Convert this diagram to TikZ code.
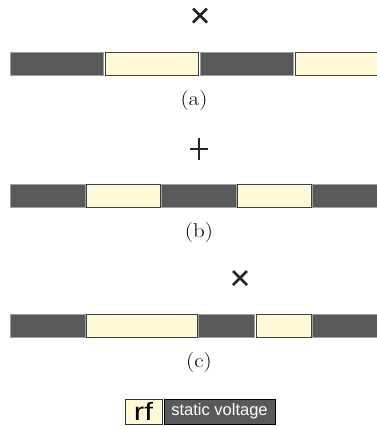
\documentclass[tikz,border=0pt]{standalone}
\usepackage{fontspec}
\newfontfamily\legendfont{Liberation Sans}
\usepackage{graphicx}
\usetikzlibrary{calc}
\definecolor{darkseg}{HTML}{58595B}
\definecolor{creamseg}{HTML}{FFF9D8}
\begin{document}
\begin{tikzpicture}[x=1pt,y=-1pt,
  dseg/.style={fill=darkseg,draw=gray!75,line width=0.7pt},
  cseg/.style={fill=creamseg,draw=black!75,line width=0.7pt},
  sublabel/.style={font=\fontsize{20}{22}\selectfont,inner sep=0pt},
  xmarkline/.style={line width=2.6pt,black!85},
  pmarkline/.style={line width=2.2pt,black!85}]
\useasboundingbox[fill=white] (0,0) rectangle (377,426);
% (a)
\draw[dseg] (10,52) rectangle (103,75);
\draw[cseg] (105,52) rectangle (198,75);
\draw[dseg] (200,52) rectangle (293,75);
\draw[cseg] (295,52) rectangle (379,75);
\coordinate (xa) at (200,15.5);
\draw[xmarkline] ($(xa)+(-7,-7)$) -- ($(xa)+(7,7)$) ($(xa)+(-7,7)$) -- ($(xa)+(7,-7)$);
\node[sublabel] (la) at (194,101) {\scalebox{1.15}[1]{(a)}};
% (b)
\draw[dseg] (10,184) rectangle (85,207);
\draw[cseg] (86.5,184) rectangle (160,207);
\draw[dseg] (161.5,184) rectangle (236,207);
\draw[cseg] (237.5,184) rectangle (311,207);
\draw[dseg] (312.5,184) rectangle (379,207);
\coordinate (pb) at (199,149);
\draw[pmarkline] ($(pb)+(-9,0)$) -- ($(pb)+(9,0)$) ($(pb)+(0,-11)$) -- ($(pb)+(0,11)$);
\node[sublabel] (lb) at (199,233) {\scalebox{1.15}[1]{(b)}};
% (c)
\draw[dseg] (10,314) rectangle (85,337);
\draw[cseg] (86.5,314) rectangle (197,337);
\draw[dseg] (198.5,314) rectangle (254,337);
\draw[cseg] (256,314) rectangle (311,337);
\draw[dseg] (312.5,314) rectangle (379,337);
\coordinate (xc) at (240,278);
\draw[xmarkline] ($(xc)+(-7,-7)$) -- ($(xc)+(7,7)$) ($(xc)+(-7,7)$) -- ($(xc)+(7,-7)$);
\node[sublabel] (lc) at (199,363) {\scalebox{1.15}[1]{(c)}};
% legend
\node[fill=creamseg,draw=black!80,line width=0.7pt,minimum width=37pt,minimum height=25pt,inner sep=0pt,
  font=\legendfont\fontsize{25}{27}\selectfont] (rf) at (143.5,411.5) {\scalebox{1.25}[1]{rf}};
\node[fill=darkseg,draw=black,line width=0.7pt,minimum width=111pt,minimum height=25pt,inner sep=0pt,
  text=white,font=\legendfont\fontsize{16.5}{19}\selectfont] (sv) at (219.5,411.5) {static voltage};
\end{tikzpicture}
\end{document}
